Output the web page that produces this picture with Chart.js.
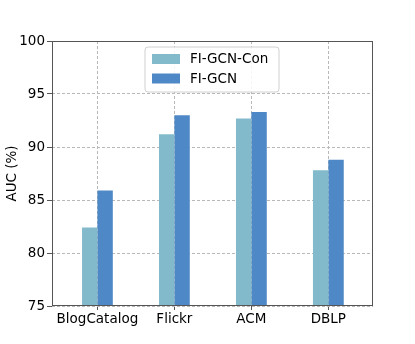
<!DOCTYPE html>
<html>
<head>
<meta charset="utf-8">
<script src="https://cdn.jsdelivr.net/npm/chart.js@4.4.1/dist/chart.umd.min.js"></script>
<style>
  html, body { margin: 0; padding: 0; background: #fff; }
  #wrap { width: 415px; height: 344px; position: relative; }
</style>
</head>
<body>
<div id="wrap"><canvas id="auc"></canvas></div>
<script>
// data
const categories = ["BlogCatalog", "Flickr", "ACM", "DBLP"];
const seriesNames = ["FI-GCN-Con", "FI-GCN"];
const conValues = [82.4, 91.2, 92.7, 87.8];
const gcnValues = [85.9, 93.0, 93.3, 88.8];
const yTicks = [75, 80, 85, 90, 95, 100];

const COL_CON = "#83bacb";
const COL_GCN = "#4f88c6";
const FONT = "'DejaVu Sans', sans-serif";
const FSIZE = 13.5;

// box around plot + legend inside the plot
const frameAndLegend = {
  id: "frameAndLegend",
  afterDraw(chart) {
    const { ctx, chartArea: a } = chart;
    ctx.save();
    ctx.strokeStyle = "#555";
    ctx.lineWidth = 1;
    ctx.strokeRect(a.left + 0.5, a.top + 0.5, a.right - a.left - 1, a.bottom - a.top - 1);

    // legend
    const lx = 145, ly = 47, lw = 134, lh = 45, r = 3;
    ctx.fillStyle = "rgba(255,255,255,0.85)";
    ctx.strokeStyle = "#d0d0d0";
    ctx.beginPath();
    ctx.moveTo(lx + r, ly);
    ctx.arcTo(lx + lw, ly, lx + lw, ly + lh, r);
    ctx.arcTo(lx + lw, ly + lh, lx, ly + lh, r);
    ctx.arcTo(lx, ly + lh, lx, ly, r);
    ctx.arcTo(lx, ly, lx + lw, ly, r);
    ctx.closePath();
    ctx.fill();
    ctx.stroke();

    ctx.font = FSIZE + "px " + FONT;
    ctx.textBaseline = "middle";
    chart.data.datasets.forEach((ds, i) => {
      const y = 59 + i * 19.5;
      ctx.fillStyle = ds.backgroundColor;
      ctx.fillRect(152, y - 5, 28, 10);
      ctx.fillStyle = "#000";
      ctx.fillText(ds.label, 190, y + 0.5);
    });
    ctx.restore();
  }
};

const toPoints = vals => vals.map((v, i) => ({ x: i, y: v }));

new Chart(document.getElementById("auc"), {
  type: "bar",
  data: {
    datasets: [
      { label: seriesNames[0], data: toPoints(conValues), backgroundColor: COL_CON, borderWidth: 0 },
      { label: seriesNames[1], data: toPoints(gcnValues), backgroundColor: COL_GCN, borderWidth: 0 }
    ]
  },
  options: {
    responsive: true,
    maintainAspectRatio: false,
    animation: false,
    layout: { padding: { top: 41, right: 42, left: 0, bottom: 0 } },
    datasets: { bar: { categoryPercentage: 0.4, barPercentage: 1.0, grouped: true } },
    plugins: { legend: { display: false }, tooltip: { enabled: false } },
    scales: {
      x: {
        type: "linear",
        min: -0.59,
        max: 3.58,
        offset: false,
        afterFit(s) { s.height = 38; },
        afterBuildTicks(s) { s.ticks = categories.map((c, i) => ({ value: i })); },
        ticks: {
          autoSkip: false,
          maxRotation: 0,
          padding: 1,
          color: "#000",
          font: { family: FONT, size: FSIZE },
          callback: v => categories[v]
        },
        grid: { offset: false, color: "#b8b8b8", lineWidth: 1, tickLength: 4, tickColor: "#555" },
        border: { display: false, dash: [3, 2] }
      },
      y: {
        min: 75,
        max: 100,
        afterFit(s) { s.width = 52; },
        afterBuildTicks(s) { s.ticks = yTicks.map(v => ({ value: v })); },
        ticks: {
          padding: 2,
          color: "#000",
          font: { family: FONT, size: FSIZE }
        },
        grid: { color: "#b8b8b8", lineWidth: 1, tickLength: 5, tickColor: "#555" },
        border: { display: false, dash: [3, 2] },
        title: {
          display: true,
          text: "AUC (%)",
          color: "#000",
          font: { family: FONT, size: FSIZE },
          padding: { top: 4, bottom: 0 }
        }
      }
    }
  },
  plugins: [frameAndLegend]
});
</script>
</body>
</html>
